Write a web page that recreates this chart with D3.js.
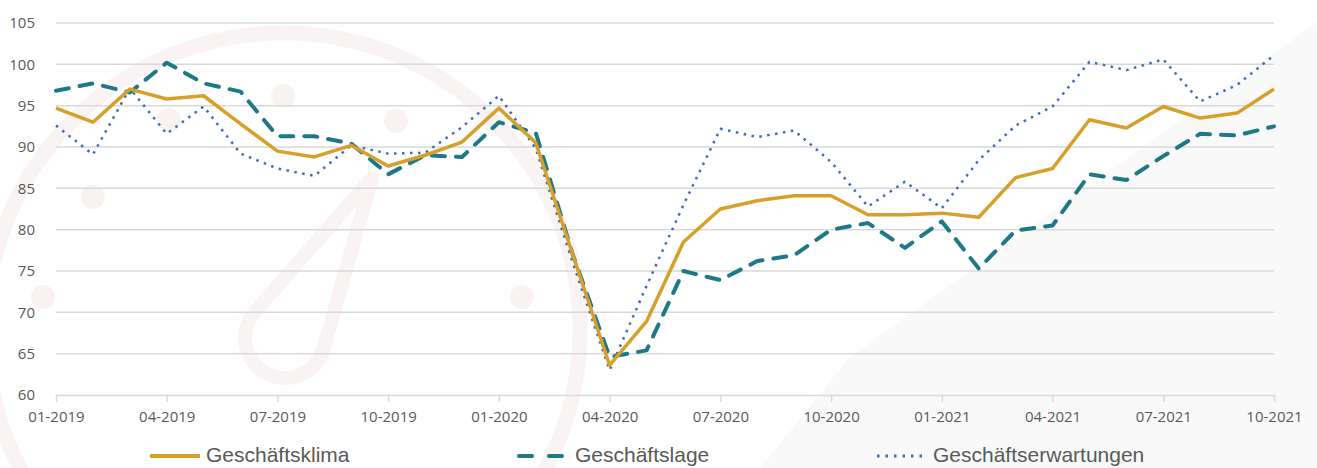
<!DOCTYPE html>
<html>
<head>
<meta charset="utf-8">
<script src="https://cdn.jsdelivr.net/npm/d3@7"></script>
<style>
  html, body { margin: 0; padding: 0; background: #fff; }
  svg { display: block; }
  .tick-label { font-family: "Open Sans", sans-serif; font-size: 15px; fill: #595959; }
  .legend-label { font-family: "Liberation Sans", Arial, sans-serif; font-size: 21px; fill: #595959; }
</style>
</head>
<body>
<svg id="chart" width="1317" height="468"></svg>
<script>
// months 01-2019 .. 10-2021
var months = [
  "01-2019","02-2019","03-2019","04-2019","05-2019","06-2019","07-2019","08-2019","09-2019","10-2019","11-2019","12-2019",
  "01-2020","02-2020","03-2020","04-2020","05-2020","06-2020","07-2020","08-2020","09-2020","10-2020","11-2020","12-2020",
  "01-2021","02-2021","03-2021","04-2021","05-2021","06-2021","07-2021","08-2021","09-2021","10-2021"
];
var tickMonths = ["01-2019","04-2019","07-2019","10-2019","01-2020","04-2020","07-2020","10-2020","01-2021","04-2021","07-2021","10-2021"];
var yTicks = [60, 65, 70, 75, 80, 85, 90, 95, 100, 105];

var klima = [94.7, 93.0, 97.0, 95.8, 96.2, 92.8, 89.5, 88.8, 90.2, 87.7, 89.0, 90.6,
  94.7, 90.5, 77.0, 63.6, 68.9, 78.5, 82.5, 83.5, 84.1, 84.1, 81.8, 81.8,
  82.0, 81.5, 86.3, 87.4, 93.3, 92.3, 94.9, 93.5, 94.1, 97.0];
var lage = [96.8, 97.7, 96.6, 100.2, 97.7, 96.7, 91.3, 91.3, 90.4, 86.7, 89.0, 88.8,
  93.0, 91.7, 77.0, 64.6, 65.4, 75.0, 73.9, 76.2, 76.9, 80.0, 80.8, 77.8,
  81.0, 75.3, 79.9, 80.5, 86.7, 86.0, 88.9, 91.6, 91.4, 92.5];
var erwartungen = [92.6, 89.1, 97.1, 91.6, 94.9, 89.2, 87.4, 86.5, 90.2, 89.2, 89.3, 92.4,
  96.2, 89.8, 76.0, 63.0, 73.2, 83.0, 92.2, 91.2, 92.0, 88.2, 82.8, 85.8,
  82.6, 88.4, 92.6, 94.9, 100.3, 99.3, 100.6, 95.5, 97.5, 101.1];

var seriesNames = ["Geschäftsklima", "Geschäftslage", "Geschäftserwartungen"];

var svg = d3.select("#chart");

// faint background watermark
var bg = svg.append("g").attr("class", "watermark");
bg.append("path")
  .attr("d", "M760,468 L850,357 L1317,22 L1317,468 Z")
  .attr("fill", "#f9f9f9");
bg.append("circle")
  .attr("cx", 283).attr("cy", 330).attr("r", 297)
  .attr("fill", "none").attr("stroke", "#f9f4f3").attr("stroke-width", 15);
[[93,197],[169,120],[283,96],[396,121],[43,297],[522,297]].forEach(function (p) {
  bg.append("circle").attr("cx", p[0]).attr("cy", p[1]).attr("r", 12).attr("fill", "#f8f2f1");
});
bg.append("path")
  .attr("d", "M372,178 L254.9,311.7 A40,40 0 1 0 323.5,348.9 Z")
  .attr("fill", "none").attr("stroke", "#f9f4f3").attr("stroke-width", 14)
  .attr("stroke-linejoin", "round");

var x = d3.scalePoint().domain(months).range([56, 1274]);
var y = d3.scaleLinear().domain([60, 105]).range([395, 23]);

// grid
svg.append("g").selectAll("line")
  .data(yTicks.filter(function (d) { return d > 60; }))
  .enter().append("line")
  .attr("x1", 56).attr("x2", 1274)
  .attr("y1", function (d) { return y(d); })
  .attr("y2", function (d) { return y(d); })
  .attr("stroke", "#d9d9d9").attr("stroke-width", 1.5);

// y axis labels
var yAxis = svg.append("g")
  .attr("transform", "translate(35,0)")
  .call(d3.axisLeft(y).tickValues(yTicks).tickSize(0).tickPadding(0));
yAxis.select(".domain").remove();
yAxis.selectAll("text").attr("class", "tick-label").attr("font-family", null).attr("font-size", null).attr("fill", null);

// x axis
var xAxis = svg.append("g")
  .attr("transform", "translate(0,395)")
  .call(d3.axisBottom(x).tickValues(tickMonths).tickSize(7).tickPadding(9).tickSizeOuter(0));
xAxis.select(".domain").attr("stroke", "#d9d9d9").attr("stroke-width", 1.5);
xAxis.selectAll(".tick line").attr("stroke", "#d9d9d9").attr("stroke-width", 1.5);
xAxis.selectAll("text").attr("class", "tick-label").attr("font-family", null).attr("font-size", null).attr("fill", null);

var line = d3.line()
  .x(function (d, i) { return x(months[i]); })
  .y(function (d) { return y(d); });

var styles = [
  { data: klima, color: "#d6a02a", width: 3.5, dash: null, cap: "butt" },
  { data: lage, color: "#1f7888", width: 4, dash: "13,11", cap: "round" },
  { data: erwartungen, color: "#3e6db3", width: 2.5, dash: "2.5,5.5", cap: "butt" }
];

// draw order: dotted, dashed, then solid on top
[2, 1, 0].forEach(function (k) {
  var s = styles[k];
  svg.append("path")
    .datum(s.data)
    .attr("d", line)
    .attr("fill", "none")
    .attr("stroke", s.color)
    .attr("stroke-width", s.width)
    .attr("stroke-linejoin", "round")
    .attr("stroke-linecap", s.cap)
    .attr("stroke-dasharray", s.dash);
});

// legend
var legendX = [150, 519, 877];
var legend = svg.append("g");
seriesNames.forEach(function (name, k) {
  var s = styles[k];
  var g = legend.append("g").attr("transform", "translate(" + legendX[k] + ",456)");
  g.append("line")
    .attr("x1", 0).attr("x2", k === 1 ? 44 : 50)
    .attr("y1", 0).attr("y2", 0)
    .attr("stroke", s.color)
    .attr("stroke-width", k === 2 ? 3 : 4)
    .attr("stroke-linecap", s.cap)
    .attr("stroke-dasharray", k === 1 ? "13,17" : (k === 2 ? "2.5,6" : null));
  g.append("text")
    .attr("class", "legend-label")
    .attr("x", 56)
    .attr("y", 6)
    .text(name);
});
</script>
</body>
</html>
